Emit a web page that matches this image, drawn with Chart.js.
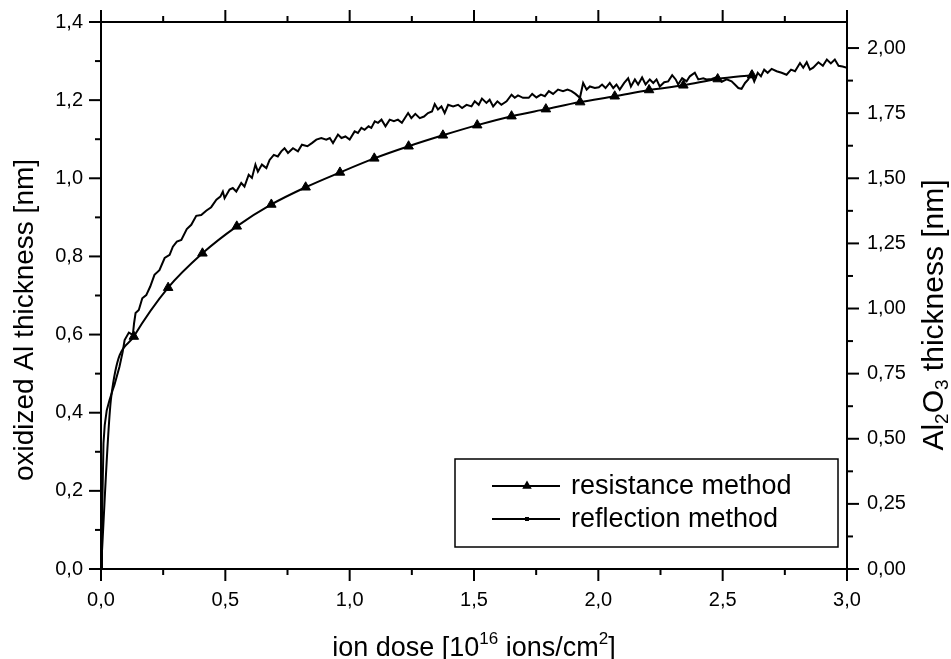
<!DOCTYPE html>
<html>
<head>
<meta charset="utf-8">
<script src="https://cdn.jsdelivr.net/npm/chart.js@4.4.0/dist/chart.umd.min.js"></script>
<style>
  html, body { margin: 0; padding: 0; background: #fff; }
  #wrap { width: 951px; height: 659px; position: relative; }
</style>
</head>
<body>
<div id="wrap"><canvas id="chart"></canvas></div>
<script>
// tick values (labels use a decimal comma)
const xTicks = [0, 0.5, 1.0, 1.5, 2.0, 2.5, 3.0];
const yLeftTicks = [0, 0.2, 0.4, 0.6, 0.8, 1.0, 1.2, 1.4];
const yRightTicks = [0, 0.25, 0.5, 0.75, 1.0, 1.25, 1.5, 1.75, 2.0];
const yRightMax = 2.1;

// resistance method (triangles)
const resX = [0, 0.041, 0.132, 0.270, 0.408, 0.546, 0.685, 0.823, 0.961, 1.099, 1.237,
  1.375, 1.513, 1.651, 1.789, 1.927, 2.066, 2.204, 2.342, 2.480, 2.618];
const resY = [0, 0.440, 0.595, 0.720, 0.808, 0.877, 0.933, 0.977, 1.015, 1.051, 1.082,
  1.110, 1.136, 1.159, 1.177, 1.195, 1.210, 1.226, 1.238, 1.254, 1.264];

// reflection method (noisy measurement)
const reflX = [0, 0.004, 0.010, 0.015, 0.023, 0.034, 0.047, 0.054, 0.074, 0.087,
  0.095, 0.112, 0.128, 0.133, 0.139, 0.152, 0.166, 0.182, 0.198, 0.215,
  0.235, 0.256, 0.276, 0.289, 0.305, 0.323, 0.345, 0.363, 0.383, 0.403,
  0.423, 0.443, 0.464, 0.480, 0.490, 0.497, 0.517, 0.530, 0.544, 0.564,
  0.577, 0.594, 0.607, 0.621, 0.631, 0.647, 0.665, 0.678, 0.695, 0.711,
  0.725, 0.738, 0.752, 0.772, 0.792, 0.808, 0.830, 0.848, 0.866, 0.886,
  0.906, 0.920, 0.933, 0.953, 0.967, 0.983, 1.000, 1.020, 1.033, 1.047,
  1.060, 1.076, 1.087, 1.101, 1.114, 1.128, 1.144, 1.161, 1.178, 1.194,
  1.210, 1.235, 1.248, 1.264, 1.282, 1.299, 1.315, 1.331, 1.342, 1.355,
  1.369, 1.382, 1.396, 1.416, 1.436, 1.452, 1.470, 1.490, 1.503, 1.519,
  1.532, 1.550, 1.563, 1.577, 1.594, 1.610, 1.631, 1.651, 1.664, 1.677,
  1.697, 1.720, 1.734, 1.751, 1.769, 1.785, 1.801, 1.818, 1.838, 1.858,
  1.876, 1.892, 1.908, 1.926, 1.939, 1.953, 1.966, 1.986, 2.002, 2.015,
  2.029, 2.046, 2.060, 2.073, 2.086, 2.104, 2.120, 2.131, 2.147, 2.160,
  2.176, 2.190, 2.207, 2.221, 2.234, 2.247, 2.265, 2.281, 2.297, 2.311,
  2.321, 2.337, 2.355, 2.368, 2.388, 2.402, 2.422, 2.435, 2.456, 2.476,
  2.496, 2.516, 2.536, 2.549, 2.563, 2.576, 2.590, 2.603, 2.614, 2.627,
  2.641, 2.654, 2.667, 2.681, 2.697, 2.717, 2.737, 2.757, 2.775, 2.791,
  2.811, 2.824, 2.838, 2.851, 2.864, 2.885, 2.903, 2.919, 2.935, 2.951,
  2.966, 2.982, 3.000];
const reflY = [0, 0.124, 0.322, 0.368, 0.406, 0.432, 0.458, 0.471, 0.517, 0.555,
  0.586, 0.605, 0.599, 0.629, 0.655, 0.663, 0.693, 0.701, 0.723, 0.753,
  0.765, 0.796, 0.804, 0.825, 0.838, 0.842, 0.870, 0.881, 0.904, 0.906,
  0.917, 0.926, 0.945, 0.953, 0.966, 0.949, 0.971, 0.975, 0.966, 0.988,
  0.979, 1.009, 1.001, 1.035, 1.017, 1.035, 1.026, 1.047, 1.060, 1.056,
  1.069, 1.077, 1.065, 1.077, 1.069, 1.086, 1.082, 1.090, 1.099, 1.103,
  1.099, 1.103, 1.090, 1.112, 1.103, 1.107, 1.099, 1.120, 1.116, 1.129,
  1.124, 1.133, 1.129, 1.146, 1.142, 1.150, 1.133, 1.150, 1.146, 1.150,
  1.142, 1.167, 1.154, 1.165, 1.154, 1.158, 1.167, 1.171, 1.190, 1.176,
  1.184, 1.167, 1.188, 1.184, 1.188, 1.180, 1.188, 1.184, 1.197, 1.188,
  1.204, 1.193, 1.201, 1.184, 1.197, 1.188, 1.197, 1.214, 1.206, 1.212,
  1.206, 1.206, 1.216, 1.207, 1.214, 1.210, 1.223, 1.216, 1.227, 1.223,
  1.227, 1.223, 1.216, 1.206, 1.244, 1.227, 1.235, 1.231, 1.233, 1.240,
  1.231, 1.244, 1.231, 1.240, 1.227, 1.244, 1.256, 1.235, 1.253, 1.240,
  1.258, 1.240, 1.253, 1.244, 1.253, 1.235, 1.246, 1.248, 1.264, 1.253,
  1.240, 1.256, 1.248, 1.261, 1.270, 1.253, 1.256, 1.253, 1.254, 1.259,
  1.247, 1.253, 1.248, 1.240, 1.231, 1.229, 1.244, 1.253, 1.270, 1.248,
  1.270, 1.261, 1.278, 1.270, 1.280, 1.274, 1.270, 1.265, 1.278, 1.274,
  1.295, 1.283, 1.297, 1.278, 1.283, 1.297, 1.288, 1.304, 1.294, 1.304,
  1.288, 1.286, 1.283];

const FONT = "'Liberation Sans', Arial, sans-serif";
const toPoints = (xs, ys) => xs.map((v, i) => ({ x: v, y: ys[i] }));
const comma = (v, d) => v.toFixed(d).replace('.', ',');

// draws a line of text made of runs (normal / sup / sub), centred on x
function drawRuns(ctx, runs, cx, baseY, size) {
  const parts = runs.map(r => {
    const s = r.k === 'n' ? size : Math.round(size * 0.62);
    ctx.font = s + 'px ' + FONT;
    return { t: r.t, s: s, k: r.k, w: ctx.measureText(r.t).width };
  });
  const total = parts.reduce((a, p) => a + p.w, 0);
  let x = cx - total / 2;
  ctx.textAlign = 'left';
  ctx.textBaseline = 'alphabetic';
  parts.forEach(p => {
    ctx.font = p.s + 'px ' + FONT;
    let dy = 0;
    if (p.k === 'sup') dy = -size * 0.45;
    if (p.k === 'sub') dy = size * 0.16;
    ctx.fillText(p.t, x, baseY + dy);
    x += p.w;
  });
}

const decorPlugin = {
  id: 'decor',
  afterDraw(chart) {
    const { ctx, chartArea: a, scales } = chart;
    const xs = scales.x, yl = scales.y, yr = scales.y2;
    const major = 12, minor = 6;
    ctx.save();
    ctx.strokeStyle = '#000';
    ctx.fillStyle = '#000';
    ctx.lineWidth = 2;
    const seg = (x1, y1, x2, y2) => { ctx.beginPath(); ctx.moveTo(x1, y1); ctx.lineTo(x2, y2); ctx.stroke(); };

    // top frame line
    seg(a.left - 1, a.top, a.right + 1, a.top);

    // x ticks on bottom and top
    xTicks.forEach((v, i) => {
      const p = xs.getPixelForValue(v);
      seg(p, a.bottom, p, a.bottom + major);
      seg(p, a.top, p, a.top - major);
      if (i < xTicks.length - 1) {
        const m = xs.getPixelForValue((v + xTicks[i + 1]) / 2);
        seg(m, a.bottom, m, a.bottom + minor);
        seg(m, a.top, m, a.top - minor);
      }
    });
    // left ticks
    yLeftTicks.forEach((v, i) => {
      const p = yl.getPixelForValue(v);
      seg(a.left, p, a.left - major, p);
      if (i < yLeftTicks.length - 1) {
        const m = yl.getPixelForValue((v + yLeftTicks[i + 1]) / 2);
        seg(a.left, m, a.left - minor, m);
      }
    });
    // right ticks
    yRightTicks.forEach((v, i) => {
      const p = yr.getPixelForValue(v);
      seg(a.right, p, a.right + major, p);
      const next = i < yRightTicks.length - 1 ? yRightTicks[i + 1] : v + 0.25;
      const mv = (v + next) / 2;
      if (mv <= yRightMax) {
        const m = yr.getPixelForValue(mv);
        seg(a.right, m, a.right + minor, m);
      }
    });

    // legend
    const bx = 455, by = 459, bw = 383, bh = 88;
    ctx.lineWidth = 1.5;
    ctx.strokeRect(bx, by, bw, bh);
    ctx.lineWidth = 2;
    const r1 = 486, r2 = 519;
    seg(492, r1, 560, r1);
    seg(492, r2, 560, r2);
    // triangle marker
    const tr = 5.5;
    ctx.beginPath();
    ctx.moveTo(527, r1 - tr);
    ctx.lineTo(527 + tr * 0.866, r1 + tr * 0.5);
    ctx.lineTo(527 - tr * 0.866, r1 + tr * 0.5);
    ctx.closePath();
    ctx.fill();
    ctx.fillRect(525, r2 - 2, 4, 4);
    ctx.font = '27px ' + FONT;
    ctx.textAlign = 'left';
    ctx.textBaseline = 'middle';
    ctx.fillText('resistance method', 571, r1 + 1);
    ctx.fillText('reflection method', 571, r2 + 1);

    // x title
    drawRuns(ctx, [
      { t: 'ion dose [10', k: 'n' }, { t: '16', k: 'sup' },
      { t: ' ions/cm', k: 'n' }, { t: '2', k: 'sup' }, { t: ']', k: 'n' }
    ], (a.left + a.right) / 2, 656, 27);

    // left title
    ctx.save();
    ctx.translate(33, 320);
    ctx.rotate(-Math.PI / 2);
    drawRuns(ctx, [{ t: 'oxidized Al thickness [nm]', k: 'n' }], 0, 0, 28);
    ctx.restore();

    // right title
    ctx.save();
    ctx.translate(943, 315);
    ctx.rotate(-Math.PI / 2);
    drawRuns(ctx, [
      { t: 'Al', k: 'n' }, { t: '2', k: 'sub' }, { t: 'O', k: 'n' },
      { t: '3', k: 'sub' }, { t: ' thickness [nm]', k: 'n' }
    ], 0, 0, 30);
    ctx.restore();

    ctx.restore();
  }
};

const tickFont = { family: FONT, size: 20 };
// y axes: no automatic padding for the end labels, the frame is placed by layout padding
const fixY = w => s => { s.width = w; s.paddingTop = 0; s.paddingBottom = 0; };

new Chart(document.getElementById('chart'), {
  type: 'scatter',
  data: {
    datasets: [
      {
        label: 'resistance method',
        data: toPoints(resX, resY),
        showLine: true,
        borderColor: '#000',
        backgroundColor: '#000',
        borderWidth: 2,
        cubicInterpolationMode: 'monotone',
        pointStyle: 'triangle',
        pointRadius: c => (c.dataIndex < 2 ? 0 : 5.5),
        pointBorderWidth: 1,
        yAxisID: 'y'
      },
      {
        label: 'reflection method',
        data: toPoints(reflX, reflY),
        showLine: true,
        borderColor: '#000',
        backgroundColor: '#000',
        borderWidth: 2,
        tension: 0,
        pointRadius: 0,
        yAxisID: 'y'
      }
    ]
  },
  options: {
    responsive: true,
    maintainAspectRatio: false,
    animation: false,
    devicePixelRatio: 1,
    layout: { padding: { top: 22, left: 0, right: 0, bottom: 0 } },
    plugins: {
      legend: { display: false },
      tooltip: { enabled: false }
    },
    scales: {
      x: {
        type: 'linear',
        position: 'bottom',
        min: 0,
        max: 3,
        afterBuildTicks: s => { s.ticks = xTicks.map(v => ({ value: v })); },
        afterFit: s => { s.height = 90; s.paddingLeft = 0; s.paddingRight = 0; },
        ticks: { font: tickFont, color: '#000', padding: 19, maxRotation: 0, autoSkip: false,
          callback: v => comma(v, 1) },
        grid: { display: false, drawTicks: false },
        border: { display: true, color: '#000', width: 2 }
      },
      y: {
        type: 'linear',
        position: 'left',
        min: 0,
        max: 1.4,
        afterBuildTicks: s => { s.ticks = yLeftTicks.map(v => ({ value: v })); },
        afterFit: fixY(101),
        ticks: { font: tickFont, color: '#000', padding: 18, autoSkip: false,
          callback: v => comma(v, 1) },
        grid: { display: false, drawTicks: false },
        border: { display: true, color: '#000', width: 2 }
      },
      y2: {
        type: 'linear',
        position: 'right',
        min: 0,
        max: yRightMax,
        afterBuildTicks: s => { s.ticks = yRightTicks.map(v => ({ value: v })); },
        afterFit: fixY(104),
        ticks: { font: tickFont, color: '#000', padding: 20, autoSkip: false,
          callback: v => comma(v, 2) },
        grid: { display: false, drawTicks: false },
        border: { display: true, color: '#000', width: 2 }
      }
    }
  },
  plugins: [decorPlugin]
});
</script>
</body>
</html>
